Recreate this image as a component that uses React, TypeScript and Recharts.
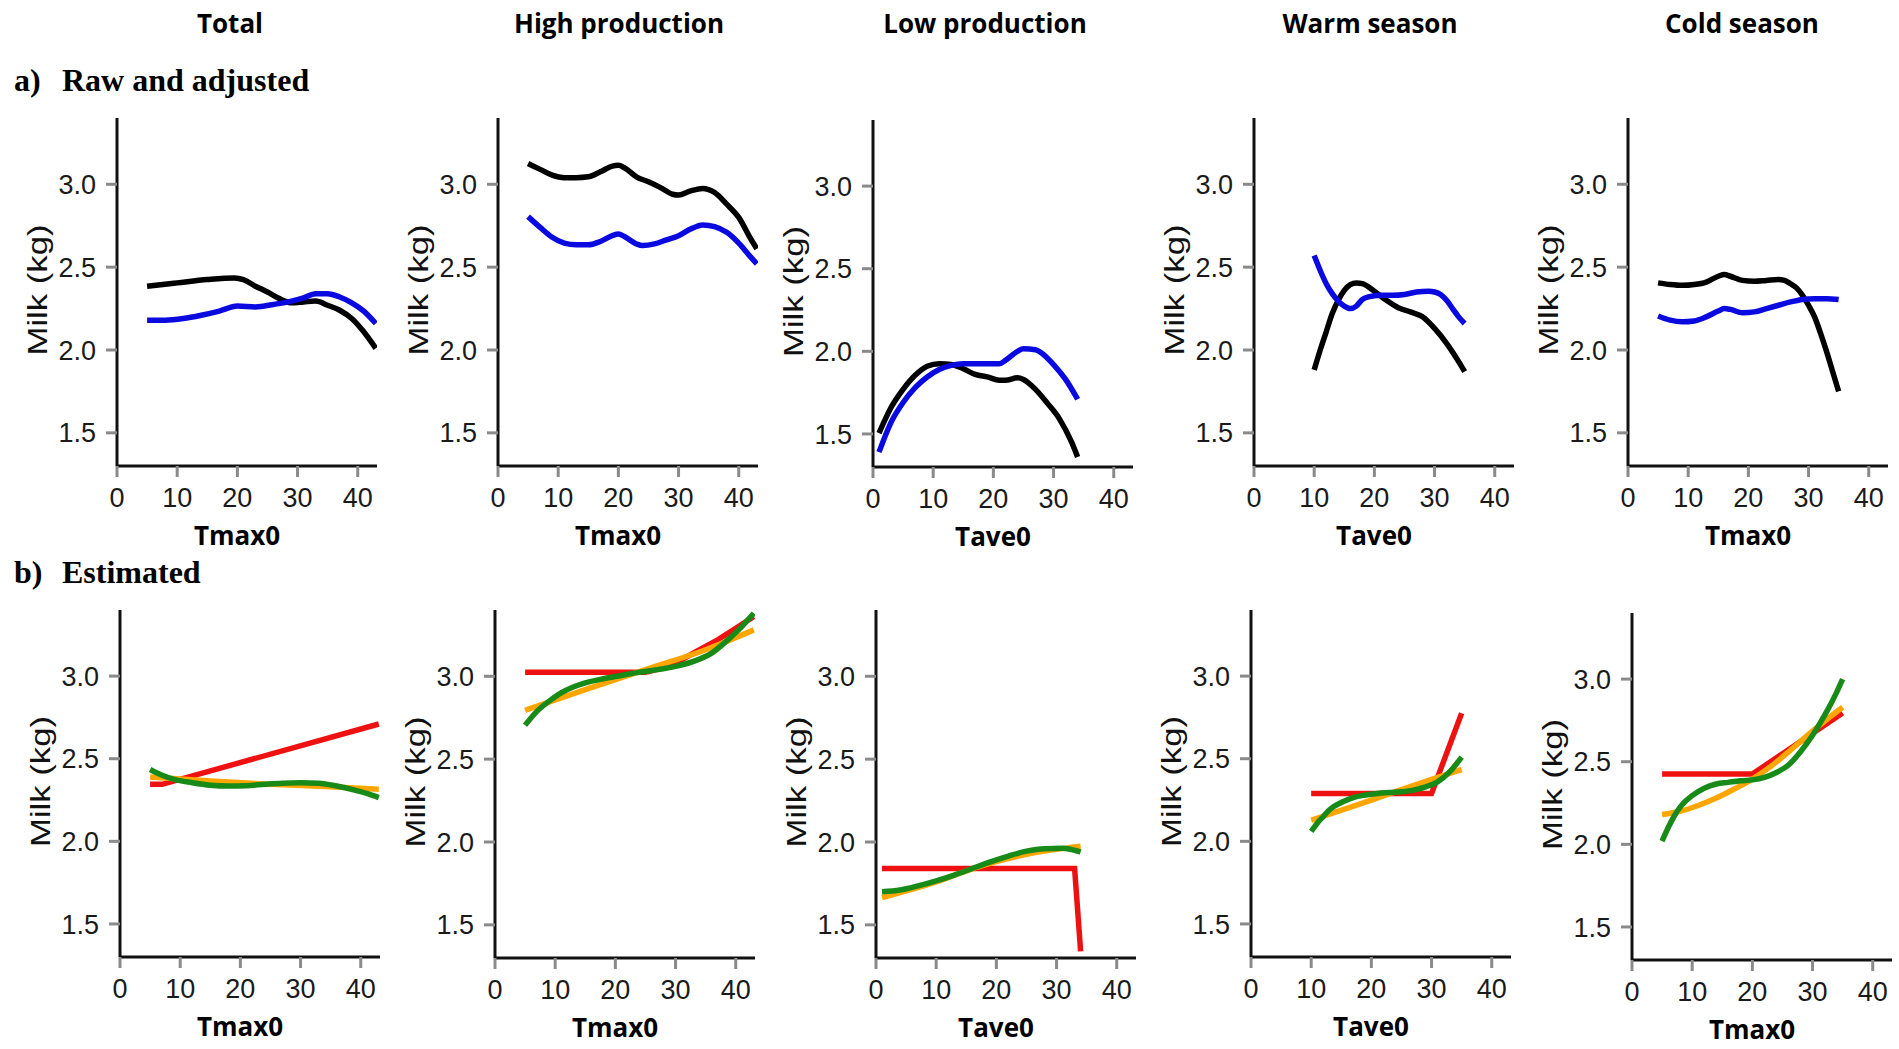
import { LineChart, Line, XAxis, YAxis } from 'recharts';

type Pt = [number, number];

const columns = ['Total', 'High production', 'Low production', 'Warm season', 'Cold season'];
const columnCenters = [230, 619, 985, 1370, 1742];
const xVars = ['Tmax0', 'Tmax0', 'Tave0', 'Tave0', 'Tmax0'];
const xTicks = [0, 10, 20, 30, 40];
const yTicks = [1.5, 2.0, 2.5, 3.0];

// a) raw (black) and adjusted (blue) curves
const totalRaw: Pt[] = [[5, 2.385], [10, 2.405], [15, 2.425], [19.5, 2.435], [21, 2.425], [23, 2.385], [25, 2.35], [27, 2.31], [29, 2.285], [31, 2.29], [33, 2.295], [35, 2.27], [37, 2.24], [39, 2.19], [41, 2.11], [43, 2.01]];
const totalAdj: Pt[] = [[5, 2.18], [8, 2.18], [11, 2.19], [14, 2.21], [17, 2.235], [20, 2.265], [23, 2.26], [26, 2.275], [29, 2.295], [31, 2.315], [33, 2.34], [35, 2.34], [37, 2.32], [39, 2.285], [41, 2.235], [43, 2.16]];
const highRaw: Pt[] = [[5, 3.125], [7, 3.09], [9, 3.055], [11, 3.04], [13, 3.04], [15, 3.045], [17, 3.075], [19, 3.11], [20, 3.115], [21, 3.1], [23, 3.045], [25, 3.015], [27, 2.98], [29, 2.94], [30, 2.935], [32, 2.96], [34, 2.975], [36, 2.95], [38, 2.88], [40, 2.8], [42, 2.67], [43, 2.61]];
const highAdj: Pt[] = [[5, 2.805], [7, 2.74], [9, 2.68], [11, 2.645], [13, 2.635], [15, 2.635], [17, 2.655], [19, 2.69], [20, 2.7], [21, 2.685], [23, 2.64], [24, 2.63], [26, 2.64], [28, 2.665], [30, 2.69], [32, 2.73], [34, 2.755], [36, 2.745], [38, 2.71], [40, 2.645], [42, 2.56], [43, 2.52]];
const lowRaw: Pt[] = [[1, 1.505], [3, 1.66], [5, 1.77], [7, 1.855], [9, 1.91], [11, 1.925], [13, 1.92], [15, 1.895], [17, 1.86], [19, 1.845], [21, 1.825], [22, 1.825], [24, 1.84], [25, 1.83], [27, 1.77], [29, 1.685], [31, 1.59], [33, 1.45], [34, 1.36]];
const lowAdj: Pt[] = [[1, 1.39], [3, 1.57], [5, 1.69], [7, 1.78], [9, 1.845], [11, 1.89], [13, 1.915], [15, 1.925], [17, 1.925], [19, 1.925], [21, 1.925], [22, 1.945], [24, 2.0], [25, 2.015], [27, 2.01], [28, 1.99], [30, 1.92], [32, 1.83], [34, 1.71]];
const warmRaw: Pt[] = [[10, 1.88], [11, 2.0], [12, 2.11], [13, 2.22], [14, 2.3], [15, 2.36], [16, 2.395], [17, 2.405], [18, 2.4], [20, 2.355], [22, 2.3], [24, 2.255], [26, 2.23], [28, 2.2], [30, 2.13], [32, 2.04], [34, 1.93], [35, 1.87]];
const warmAdj: Pt[] = [[10, 2.57], [11, 2.48], [12, 2.4], [13, 2.34], [14, 2.295], [15, 2.265], [16, 2.25], [17, 2.265], [18, 2.305], [19, 2.32], [21, 2.33], [23, 2.33], [25, 2.335], [27, 2.35], [29, 2.355], [30, 2.35], [31, 2.335], [32, 2.3], [33, 2.25], [34, 2.2], [35, 2.16]];
const coldRaw: Pt[] = [[5, 2.405], [7, 2.395], [9, 2.39], [11, 2.395], [13, 2.41], [15, 2.445], [16, 2.455], [17, 2.445], [19, 2.42], [21, 2.415], [23, 2.42], [25, 2.425], [26, 2.42], [27, 2.4], [28, 2.375], [29, 2.33], [30, 2.27], [31, 2.2], [32, 2.1], [33, 1.99], [34, 1.87], [35, 1.75]];
const coldAdj: Pt[] = [[5, 2.205], [7, 2.18], [9, 2.17], [11, 2.175], [13, 2.2], [15, 2.235], [16, 2.25], [17, 2.245], [19, 2.225], [21, 2.23], [23, 2.25], [25, 2.27], [27, 2.29], [29, 2.305], [31, 2.31], [33, 2.31], [35, 2.305]];

// b) estimated: threshold (red), quadratic (orange), cubic (green)
const totalRed: Pt[] = [[5, 2.345], [7, 2.345], [43, 2.71]];
const totalOrange: Pt[] = [[5, 2.39], [15, 2.365], [25, 2.345], [35, 2.33], [43, 2.315]];
const totalGreen: Pt[] = [[5, 2.435], [7, 2.4], [9, 2.375], [12, 2.355], [15, 2.34], [18, 2.335], [21, 2.337], [24, 2.345], [27, 2.352], [30, 2.355], [33, 2.352], [36, 2.335], [39, 2.31], [41, 2.29], [43, 2.265]];
const highRed: Pt[] = [[5, 3.025], [25, 3.025], [28, 3.05], [31, 3.1], [34, 3.16], [37, 3.22], [40, 3.29], [43, 3.36]];
const highOrange: Pt[] = [[5, 2.795], [15, 2.92], [25, 3.04], [35, 3.16], [43, 3.28]];
const highGreen: Pt[] = [[5, 2.705], [7, 2.79], [9, 2.85], [11, 2.9], [13, 2.935], [15, 2.96], [18, 2.985], [21, 3.005], [24, 3.025], [27, 3.04], [30, 3.06], [33, 3.09], [36, 3.14], [39, 3.23], [41, 3.3], [43, 3.38]];
const lowRed: Pt[] = [[1, 1.84], [33, 1.84], [34, 1.34]];
const lowOrange: Pt[] = [[1, 1.665], [10, 1.76], [17, 1.85], [25, 1.925], [34, 1.975]];
const lowGreen: Pt[] = [[1, 1.7], [4, 1.71], [7, 1.735], [10, 1.765], [13, 1.8], [16, 1.84], [19, 1.88], [22, 1.915], [25, 1.945], [28, 1.96], [31, 1.962], [33, 1.95], [34, 1.94]];
const warmRed: Pt[] = [[10, 2.29], [30, 2.29], [35, 2.775]];
const warmOrange: Pt[] = [[10, 2.128], [20, 2.25], [30, 2.375], [35, 2.435]];
const warmGreen: Pt[] = [[10, 2.06], [11, 2.11], [12, 2.15], [13, 2.19], [15, 2.235], [17, 2.265], [19, 2.28], [21, 2.29], [23, 2.295], [25, 2.3], [27, 2.31], [29, 2.33], [31, 2.36], [33, 2.42], [35, 2.51]];
const coldRed: Pt[] = [[5, 2.425], [20, 2.425], [35, 2.795]];
const coldOrange: Pt[] = [[5, 2.18], [8, 2.2], [11, 2.235], [14, 2.28], [17, 2.335], [20, 2.395], [23, 2.47], [26, 2.56], [29, 2.655], [32, 2.745], [35, 2.83]];
const coldGreen: Pt[] = [[5, 2.02], [6, 2.1], [7, 2.17], [8, 2.225], [9, 2.265], [10, 2.295], [12, 2.34], [14, 2.365], [16, 2.375], [18, 2.385], [20, 2.39], [22, 2.405], [24, 2.435], [26, 2.48], [28, 2.56], [30, 2.66], [32, 2.78], [34, 2.92], [35, 3.0]];

const rawSeries = [
  [totalRaw, totalAdj],
  [highRaw, highAdj],
  [lowRaw, lowAdj],
  [warmRaw, warmAdj],
  [coldRaw, coldAdj],
];
const estSeries = [
  [totalRed, totalOrange, totalGreen],
  [highRed, highOrange, highGreen],
  [lowRed, lowOrange, lowGreen],
  [warmRed, warmOrange, warmGreen],
  [coldRed, coldOrange, coldGreen],
];

const rawColors = ['#000000', '#0a0ae0'];
const estColors = ['#ee1111', '#ffa500', '#178a17'];
const rawCurve = ['monotone', 'monotone'] as const;
const estCurve = ['linear', 'monotone', 'monotone'] as const;

// plot-area placement: left = y axis x, top = plot top, h = plot height
const layoutA = [
  { left: 117, top: 118, h: 348 },
  { left: 498, top: 118, h: 348 },
  { left: 873, top: 120, h: 347 },
  { left: 1254, top: 118, h: 348 },
  { left: 1628, top: 118, h: 348 },
];
const layoutB = [
  { left: 120, top: 610, h: 347 },
  { left: 495, top: 610, h: 348 },
  { left: 876, top: 610, h: 348 },
  { left: 1251, top: 610, h: 347 },
  { left: 1632, top: 613, h: 347 },
];

const PLOT_W = 260;
const Y_W = 100;
const M_TOP = 10;
const M_RIGHT = 12;
const X_H = 100;

const sans = '"Liberation Sans", Arial, sans-serif';
const sansBold = '"Open Sans", "Noto Sans", sans-serif';
const serif = '"Liberation Serif", "Times New Roman", serif';

const tickStyle = { fontSize: 27, fill: '#1a1a1a', fontFamily: sans };
const axisStyle = { stroke: '#111', strokeWidth: 3 };
const tickLineStyle = { stroke: '#8a8a8a', strokeWidth: 3 };
const toXY = (pts: Pt[]) => pts.map(([x, y]) => ({ x, y }));

function Panel({ pos, lines, colors, curves }: {
  pos: { left: number; top: number; h: number };
  lines: Pt[][];
  colors: string[];
  curves: readonly ('linear' | 'monotone')[];
}) {
  return (
    <div style={{ position: 'absolute', left: pos.left - Y_W, top: pos.top - M_TOP }}>
      <LineChart
        width={Y_W + PLOT_W + M_RIGHT}
        height={M_TOP + pos.h + X_H}
        margin={{ top: M_TOP, right: M_RIGHT, bottom: 0, left: 0 }}
      >
        <XAxis
          type="number"
          dataKey="x"
          domain={[0, 43.2]}
          ticks={xTicks}
          allowDataOverflow
          height={X_H}
          tickSize={11}
          tickMargin={11}
          tick={tickStyle}
          axisLine={axisStyle}
          tickLine={tickLineStyle}
        />
        <YAxis
          type="number"
          dataKey="y"
          domain={[1.3, 3.4]}
          ticks={yTicks}
          allowDataOverflow
          width={Y_W}
          tickSize={11}
          tickMargin={10}
          tick={tickStyle}
          tickFormatter={(v: number) => v.toFixed(1)}
          axisLine={axisStyle}
          tickLine={tickLineStyle}
        />
        {lines.map((pts, i) => (
          <Line
            key={i}
            data={toXY(pts)}
            dataKey="y"
            type={curves[i]}
            stroke={colors[i]}
            strokeWidth={5.5}
            dot={false}
            activeDot={false}
            isAnimationActive={false}
          />
        ))}
      </LineChart>
    </div>
  );
}

export default function App() {
  const allPos = [...layoutA, ...layoutB];
  return (
    <div style={{ position: 'absolute', left: 0, top: 0, width: 1899, height: 1049, background: '#fff', overflow: 'hidden' }}>
      {layoutA.map((pos, i) => (
        <Panel key={'a' + i} pos={pos} lines={rawSeries[i]} colors={rawColors} curves={rawCurve} />
      ))}
      {layoutB.map((pos, i) => (
        <Panel key={'b' + i} pos={pos} lines={estSeries[i]} colors={estColors} curves={estCurve} />
      ))}
      <svg width={1899} height={1049} style={{ position: 'absolute', left: 0, top: 0, pointerEvents: 'none' }}>
        {columns.map((c, i) => (
          <text key={c} x={columnCenters[i]} y={33} textAnchor="middle" fontFamily={sansBold} fontWeight={700} fontSize={26} fill="#000">
            {c}
          </text>
        ))}
        <text x={14} y={91} fontFamily={serif} fontWeight={700} fontSize={32}>a)</text>
        <text x={62} y={91} fontFamily={serif} fontWeight={700} fontSize={32}>Raw and adjusted</text>
        <text x={14} y={583} fontFamily={serif} fontWeight={700} fontSize={32}>b)</text>
        <text x={62} y={583} fontFamily={serif} fontWeight={700} fontSize={32}>Estimated</text>
        {allPos.map((pos, i) => (
          <g key={'lab' + i}>
            <text
              x={pos.left + 120}
              y={pos.top + pos.h + 79}
              textAnchor="middle"
              fontFamily={sansBold}
              fontWeight={700}
              fontSize={26}
            >
              {xVars[i % 5]}
            </text>
            <text
              transform={`translate(${pos.left - 80}, ${pos.top + pos.h / 2 - 2}) rotate(-90) scale(1.24, 1)`}
              textAnchor="middle"
              dominantBaseline="central"
              fontFamily={sans}
              fontSize={28}
              fill="#111"
            >
              Milk (kg)
            </text>
          </g>
        ))}
      </svg>
    </div>
  );
}
